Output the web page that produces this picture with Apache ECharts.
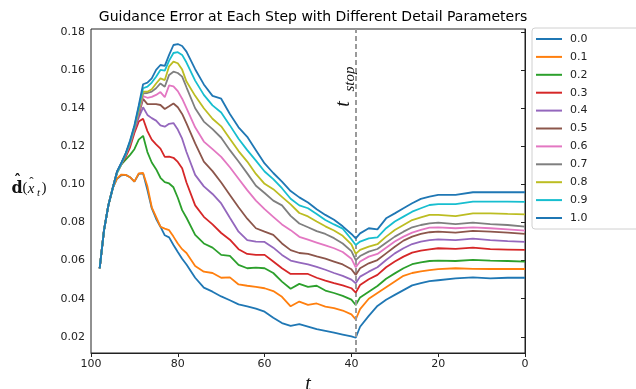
<!DOCTYPE html>
<html>
<head>
<meta charset="utf-8">
<script src="https://cdn.jsdelivr.net/npm/echarts@6/dist/echarts.min.js"></script>
<style>
html,body{margin:0;padding:0;background:#fff;}
#chart{width:636px;height:389px;}
</style>
</head>
<body>
<div id="chart"></div>
<script>
// timesteps (x values)
const T = [98, 97, 96, 95, 94, 93, 92, 91, 90, 89, 88, 87, 86, 85, 84, 83, 82, 81, 80, 79, 78,
  76, 74, 72, 70, 68, 66, 64, 62, 60, 58, 56, 54, 52, 50, 48, 46, 44, 42, 40, 39, 38,
  36, 34, 32, 30, 28, 26, 24, 22, 20, 16, 12, 8, 4, 0];

const TSTOP = 38.9;

const d00 = [0.056, 0.076, 0.089, 0.098, 0.1030, 0.1048, 0.1050, 0.1038, 0.1015, 0.1055, 0.1058, 0.0970, 0.0875, 0.0820, 0.0778, 0.0733, 0.0722, 0.0682, 0.0645, 0.0610, 0.0580,
  0.0510, 0.0458, 0.0437, 0.0412, 0.0392, 0.0370, 0.0360, 0.0348, 0.0332, 0.0300, 0.0272, 0.0257, 0.0267, 0.0254, 0.0240, 0.0231, 0.0222, 0.0212, 0.0202, 0.0195, 0.0253,
  0.0310, 0.0362, 0.0395, 0.0420, 0.0445, 0.0470, 0.0482, 0.0492, 0.0497, 0.0507, 0.0512, 0.0507, 0.0510, 0.0510];
const d01 = [0.056, 0.076, 0.089, 0.098, 0.1032, 0.1052, 0.1050, 0.1038, 0.1015, 0.1058, 0.1060, 0.0990, 0.0880, 0.0830, 0.0778, 0.0768, 0.0760, 0.0726, 0.0690, 0.0660, 0.0640,
  0.0572, 0.0542, 0.0535, 0.0510, 0.0512, 0.0475, 0.0468, 0.0462, 0.0455, 0.0440, 0.0410, 0.0360, 0.0385, 0.0368, 0.0375, 0.0358, 0.0350, 0.0338, 0.0318, 0.0292, 0.0345,
  0.0400, 0.0430, 0.0460, 0.0490, 0.0520, 0.0535, 0.0543, 0.0550, 0.0555, 0.0560, 0.0557, 0.0556, 0.0556, 0.0556];
const d02 = [0.056, 0.076, 0.089, 0.098, 0.1060, 0.1105, 0.1130, 0.1155, 0.1185, 0.1235, 0.1255, 0.1170, 0.1115, 0.1080, 0.1035, 0.1012, 0.1005, 0.0985, 0.0930, 0.0865, 0.0825,
  0.0735, 0.0690, 0.0668, 0.0630, 0.0625, 0.0578, 0.0560, 0.0563, 0.0560, 0.0535, 0.0490, 0.0452, 0.0478, 0.0462, 0.0468, 0.0443, 0.0430, 0.0415, 0.0395, 0.0367, 0.0407,
  0.0437, 0.0467, 0.0505, 0.0533, 0.0560, 0.0581, 0.0591, 0.0598, 0.0600, 0.0598, 0.0604, 0.0600, 0.0598, 0.0595];
const d03 = [0.056, 0.076, 0.089, 0.098, 0.1065, 0.1105, 0.1145, 0.1195, 0.1270, 0.1330, 0.1345, 0.1280, 0.1235, 0.1210, 0.1188, 0.1145, 0.1146, 0.1140, 0.1118, 0.1085, 0.1010,
  0.0890, 0.0830, 0.0790, 0.0745, 0.0710, 0.0660, 0.0635, 0.0630, 0.0630, 0.0595, 0.0560, 0.0530, 0.0530, 0.0530, 0.0510, 0.0495, 0.0482, 0.0470, 0.0455, 0.0432, 0.0472,
  0.0502, 0.0525, 0.0565, 0.0595, 0.0621, 0.0642, 0.0652, 0.0659, 0.0665, 0.0662, 0.0668, 0.0660, 0.0658, 0.0656];
const d04 = [0.056, 0.076, 0.089, 0.098, 0.1065, 0.1110, 0.1155, 0.1210, 0.1285, 0.1350, 0.1405, 0.1365, 0.1348, 0.1335, 0.1310, 0.1303, 0.1318, 0.1322, 0.1288, 0.1240, 0.1170,
  0.1050, 0.0990, 0.0950, 0.0900, 0.0825, 0.0752, 0.0708, 0.0700, 0.0698, 0.0668, 0.0630, 0.0600, 0.0590, 0.0580, 0.0567, 0.0552, 0.0535, 0.0520, 0.0500, 0.0481, 0.0516,
  0.0542, 0.0565, 0.0603, 0.0638, 0.0665, 0.0687, 0.0700, 0.0708, 0.0712, 0.0708, 0.0715, 0.0708, 0.0702, 0.0698];
const d05 = [0.056, 0.076, 0.089, 0.098, 0.1065, 0.1110, 0.1158, 0.1215, 0.1292, 0.1365, 0.1449, 0.1422, 0.1422, 0.1422, 0.1417, 0.1396, 0.1410, 0.1425, 0.1405, 0.1370, 0.1320,
  0.1215, 0.1120, 0.1070, 0.1010, 0.0945, 0.0880, 0.0820, 0.0770, 0.0752, 0.0735, 0.0690, 0.0655, 0.0640, 0.0635, 0.0622, 0.0610, 0.0595, 0.0580, 0.0555, 0.0525, 0.0560,
  0.0586, 0.0603, 0.0638, 0.0673, 0.0705, 0.0726, 0.0740, 0.0749, 0.0752, 0.0747, 0.0756, 0.0752, 0.0747, 0.0740];
const d06 = [0.056, 0.076, 0.089, 0.098, 0.1065, 0.1110, 0.1158, 0.1218, 0.1295, 0.1375, 0.1464, 0.1455, 0.1460, 0.1470, 0.1485, 0.1458, 0.1520, 0.1515, 0.1490, 0.1450, 0.1400,
  0.1300, 0.1225, 0.1185, 0.1145, 0.1090, 0.1030, 0.0970, 0.0915, 0.0870, 0.0830, 0.0790, 0.0760, 0.0725, 0.0710, 0.0695, 0.0680, 0.0665, 0.0645, 0.0610, 0.0565, 0.0595,
  0.0621, 0.0635, 0.0668, 0.0700, 0.0726, 0.0747, 0.0761, 0.0773, 0.0775, 0.0770, 0.0775, 0.0770, 0.0764, 0.0757];
const d07 = [0.056, 0.076, 0.089, 0.098, 0.1065, 0.1110, 0.1160, 0.1220, 0.1298, 0.1385, 0.1478, 0.1480, 0.1487, 0.1505, 0.1530, 0.1513, 0.1575, 0.1592, 0.1585, 0.1566, 0.1510,
  0.1400, 0.1330, 0.1290, 0.1245, 0.1180, 0.1120, 0.1058, 0.0993, 0.0955, 0.0915, 0.0890, 0.0835, 0.0795, 0.0775, 0.0755, 0.0740, 0.0718, 0.0690, 0.0650, 0.0603, 0.0624,
  0.0647, 0.0661, 0.0694, 0.0726, 0.0752, 0.0775, 0.0787, 0.0796, 0.0799, 0.0792, 0.0799, 0.0792, 0.0787, 0.0778];
const d08 = [0.056, 0.076, 0.089, 0.098, 0.1065, 0.1110, 0.1160, 0.1222, 0.1300, 0.1395, 0.1487, 0.1487, 0.1500, 0.1530, 0.1557, 0.1548, 0.1620, 0.1645, 0.1636, 0.1603, 0.1540,
  0.1465, 0.1400, 0.1345, 0.1305, 0.1240, 0.1175, 0.1120, 0.1055, 0.1003, 0.0975, 0.0935, 0.0895, 0.0850, 0.0832, 0.0805, 0.0780, 0.0758, 0.0730, 0.0685, 0.0635, 0.0656,
  0.0673, 0.0686, 0.0726, 0.0761, 0.0787, 0.0813, 0.0827, 0.0840, 0.0840, 0.0834, 0.0848, 0.0848, 0.0845, 0.0843];
const d09 = [0.056, 0.076, 0.089, 0.098, 0.1065, 0.1110, 0.1160, 0.1225, 0.1305, 0.1405, 0.1505, 0.1513, 0.1535, 0.1565, 0.1601, 0.1597, 0.1650, 0.1690, 0.1694, 0.1680, 0.1640,
  0.1545, 0.1470, 0.1415, 0.1378, 0.1310, 0.1240, 0.1180, 0.1125, 0.1068, 0.1028, 0.0980, 0.0925, 0.0890, 0.0875, 0.0845, 0.0813, 0.0790, 0.0768, 0.0712, 0.0682, 0.0700,
  0.0717, 0.0722, 0.0770, 0.0805, 0.0831, 0.0857, 0.0875, 0.0892, 0.0897, 0.0897, 0.0910, 0.0910, 0.0910, 0.0908];
const d10 = [0.056, 0.076, 0.089, 0.098, 0.1068, 0.1115, 0.1165, 0.1230, 0.1310, 0.1415, 0.1526, 0.1534, 0.1557, 0.1601, 0.1627, 0.1622, 0.1680, 0.1732, 0.1737, 0.1727, 0.1697,
  0.1605, 0.1525, 0.1465, 0.1450, 0.1370, 0.1300, 0.1250, 0.1180, 0.1110, 0.1060, 0.1015, 0.0965, 0.0932, 0.0905, 0.0870, 0.0840, 0.0815, 0.0780, 0.0740, 0.0717, 0.0743,
  0.0770, 0.0764, 0.0822, 0.0848, 0.0875, 0.0901, 0.0924, 0.0936, 0.0945, 0.0945, 0.0959, 0.0959, 0.0959, 0.0959];

const seriesNames = ['0.0', '0.1', '0.2', '0.3', '0.4', '0.5', '0.6', '0.7', '0.8', '0.9', '1.0'];
const seriesValues = [d00, d01, d02, d03, d04, d05, d06, d07, d08, d09, d10];
const colors = ['#1f77b4', '#ff7f0e', '#2ca02c', '#d62728', '#9467bd', '#8c564b',
  '#e377c2', '#7f7f7f', '#bcbd22', '#17becf', '#1f77b4'];
const yTicks = [0.02, 0.04, 0.06, 0.08, 0.10, 0.12, 0.14, 0.16, 0.18];

const chart = echarts.init(document.getElementById('chart'), null, {renderer: 'canvas'});

const series = seriesNames.map((name, k) => ({
  name: name,
  type: 'line',
  data: T.map((t, i) => [t, seriesValues[k][i]]),
  symbol: 'none',
  smooth: false,
  lineStyle: {width: 1.8, color: colors[k]},
  itemStyle: {color: colors[k]},
  emphasis: {disabled: true},
  silent: true,
  animation: false,
  z: 2 + k
}));

series[0].markLine = {
  silent: true,
  symbol: 'none',
  animation: false,
  label: {show: false},
  lineStyle: {color: '#9a9a9a', width: 2, type: [5, 3]},
  data: [{xAxis: TSTOP}]
};

const axisFont = {fontFamily: 'DejaVu Sans', fontSize: 11, color: '#222'};
const serifTxt = (text, x, y, font, extra) => Object.assign({
  type: 'text', x: x, y: y, silent: true,
  style: {text: text, font: font, fill: '#111', align: 'center', verticalAlign: 'middle'}
}, extra || {});

chart.setOption({
  animation: false,
  backgroundColor: '#fff',
  color: colors,
  title: {
    text: 'Guidance Error at Each Step with Different Detail Parameters',
    left: 308, top: 5, textAlign: 'center',
    textStyle: {fontFamily: 'DejaVu Sans', fontSize: 14, fontWeight: 'normal', color: '#000'}
  },
  grid: {left: 91, top: 29, width: 434, height: 324, outerBoundsMode: 'none', containLabel: false,
    show: true, borderColor: '#222', borderWidth: 1, backgroundColor: 'transparent'},
  legend: {
    orient: 'vertical',
    left: 532, top: 28,
    data: seriesNames.map(n => ({name: n, icon: 'rect'})),
    itemWidth: 26, itemHeight: 2, itemGap: 3.9,
    padding: [4, 70, 4, 4],
    backgroundColor: '#fff',
    borderColor: '#d0d0d0', borderWidth: 1, borderRadius: 3,
    textStyle: {fontFamily: 'DejaVu Sans', fontSize: 11, lineHeight: 14, color: '#222', padding: [0, 0, 0, 3]},
    selectedMode: false
  },
  xAxis: {
    type: 'value', inverse: true, min: 0, max: 100, interval: 20,
    name: 't', nameLocation: 'middle', nameGap: 21,
    nameTextStyle: {fontFamily: 'Liberation Serif', fontStyle: 'italic', fontSize: 20, color: '#111'},
    axisLine: {show: true, lineStyle: {color: '#222', width: 1}},
    axisTick: {show: true, inside: false, length: 4, lineStyle: {color: '#222'}},
    axisLabel: Object.assign({margin: 6}, axisFont),
    splitLine: {show: false}
  },
  yAxis: {
    type: 'value', min: 0.0115, max: 0.1816,
    axisLine: {show: true, lineStyle: {color: '#222', width: 1}},
    axisTick: {show: true, inside: false, length: 4, lineStyle: {color: '#222'}, customValues: yTicks},
    axisLabel: Object.assign({margin: 6, customValues: yTicks, formatter: v => v.toFixed(2)}, axisFont),
    splitLine: {show: false}
  },
  graphic: [
    serifTxt('δ', 615, 130, 'italic 30px "Liberation Serif"'),
    serifTxt('t', 344, 104, 'italic 20px "Liberation Serif"', {rotation: Math.PI / 2}),
    serifTxt('stop', 350, 79, 'italic 15px "Liberation Serif"', {rotation: Math.PI / 2}),
    // y-axis label: d-hat ( x-hat _t )
    serifTxt('d', 17, 189, 'bold 16px "DejaVu Serif"'),
    serifTxt('\u02C6', 17.5, 181, 'bold 14px "DejaVu Serif"'),
    serifTxt('(', 25, 188, '15px "Liberation Serif"'),
    serifTxt('x', 31, 189, 'italic 15px "Liberation Serif"'),
    serifTxt('\u02C6', 31.5, 183, '13px "Liberation Serif"'),
    serifTxt('t', 38.5, 193, 'italic 11px "Liberation Serif"'),
    serifTxt(')', 44, 188, '15px "Liberation Serif"')
  ],
  series: series
});
</script>
</body>
</html>
